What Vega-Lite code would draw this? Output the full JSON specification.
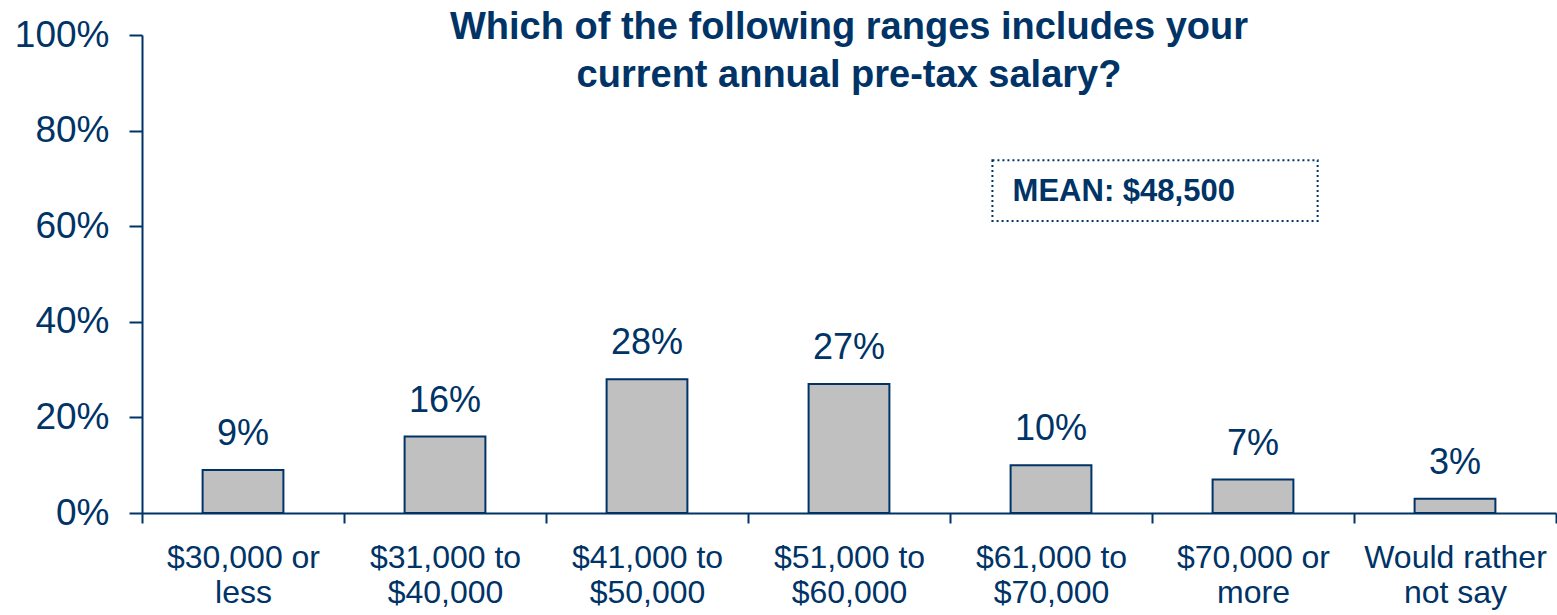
{
  "$schema": "https://vega.github.io/schema/vega-lite/v6.json",
  "autosize": {"type": "none"},
  "width": 1414,
  "height": 478,
  "padding": {"left": 142, "top": 35, "right": 1, "bottom": 102},
  "background": "white",
  "config": {
    "view": {"stroke": null},
    "font": "Liberation Sans"
  },
  "title": {
    "text": ["Which of the following ranges includes your", "current annual pre-tax salary?"],
    "fontSize": 38,
    "fontWeight": "bold",
    "color": "#003366",
    "font": "Liberation Sans",
    "anchor": "middle",
    "lineHeight": 48,
    "offset": -79
  },
  "data": {
    "values": [
      {"bracket": "$30,000 or less", "share": 0.09},
      {"bracket": "$31,000 to $40,000", "share": 0.16},
      {"bracket": "$41,000 to $50,000", "share": 0.28},
      {"bracket": "$51,000 to $60,000", "share": 0.27},
      {"bracket": "$61,000 to $70,000", "share": 0.10},
      {"bracket": "$70,000 or more", "share": 0.07},
      {"bracket": "Would rather not say", "share": 0.03}
    ]
  },
  "encoding": {
    "x": {
      "field": "bracket", "type": "nominal", "sort": null,
      "scale": {"paddingInner": 0, "paddingOuter": 0},
      "axis": {
        "title": null,
        "labelAngle": 0,
        "tickBand": "extent",
        "domainColor": "#003366",
        "domainWidth": 2,
        "tickColor": "#003366",
        "tickWidth": 2,
        "tickSize": 10,
        "labelColor": "#003366",
        "labelFont": "Liberation Sans",
        "labelFontSize": 32,
        "labelLineHeight": 35,
        "labelPadding": 19,
        "labelLimit": 400,
        "labelExpr": "!isString(datum.value) ? '' : datum.value == 'Would rather not say' ? ['Would rather', 'not say'] : [substring(datum.value, 0, lastindexof(datum.value, ' ')), substring(datum.value, lastindexof(datum.value, ' ') + 1)]"
      }
    },
    "y": {
      "field": "share", "type": "quantitative",
      "scale": {"domain": [0, 1], "nice": false},
      "axis": {
        "title": null,
        "values": [0, 0.2, 0.4, 0.6, 0.8, 1],
        "format": ".0%",
        "grid": false,
        "domainColor": "#003366",
        "domainWidth": 2,
        "tickColor": "#003366",
        "tickWidth": 2,
        "tickSize": 13,
        "labelColor": "#003366",
        "labelFont": "Liberation Sans",
        "labelFontSize": 37,
        "labelPadding": 20
      }
    }
  },
  "layer": [
    {
      "mark": {"type": "bar", "width": {"band": 0.4}, "fill": "#C0C0C0", "stroke": "#003366", "strokeWidth": 2}
    },
    {
      "mark": {"type": "text", "baseline": "alphabetic", "dy": -25, "fontSize": 36, "color": "#003366", "font": "Liberation Sans"},
      "encoding": {
        "text": {"field": "share", "type": "quantitative", "format": ".0%"}
      }
    },
    {
      "data": {"values": [{"label": "MEAN: $48,500", "from": "$61,000 to $70,000", "to": "$70,000 or more", "top": 0.738, "bottom": 0.611, "mid": 0.672}]},
      "mark": {"type": "rect", "fill": "white", "stroke": "#003366", "strokeWidth": 2, "strokeDash": [2, 3]},
      "encoding": {
        "x": {"field": "from", "type": "nominal", "bandPosition": 0.21},
        "x2": {"field": "to", "bandPosition": 0.82},
        "y": {"field": "top", "type": "quantitative"},
        "y2": {"field": "bottom"}
      }
    },
    {
      "data": {"values": [{"label": "MEAN: $48,500", "from": "$61,000 to $70,000", "mid": 0.672}]},
      "mark": {"type": "text", "align": "left", "baseline": "middle", "fontSize": 31, "fontWeight": "bold", "color": "#003366", "font": "Liberation Sans"},
      "encoding": {
        "x": {"field": "from", "type": "nominal", "bandPosition": 0.31},
        "y": {"field": "mid", "type": "quantitative"},
        "text": {"field": "label"}
      }
    }
  ]
}
